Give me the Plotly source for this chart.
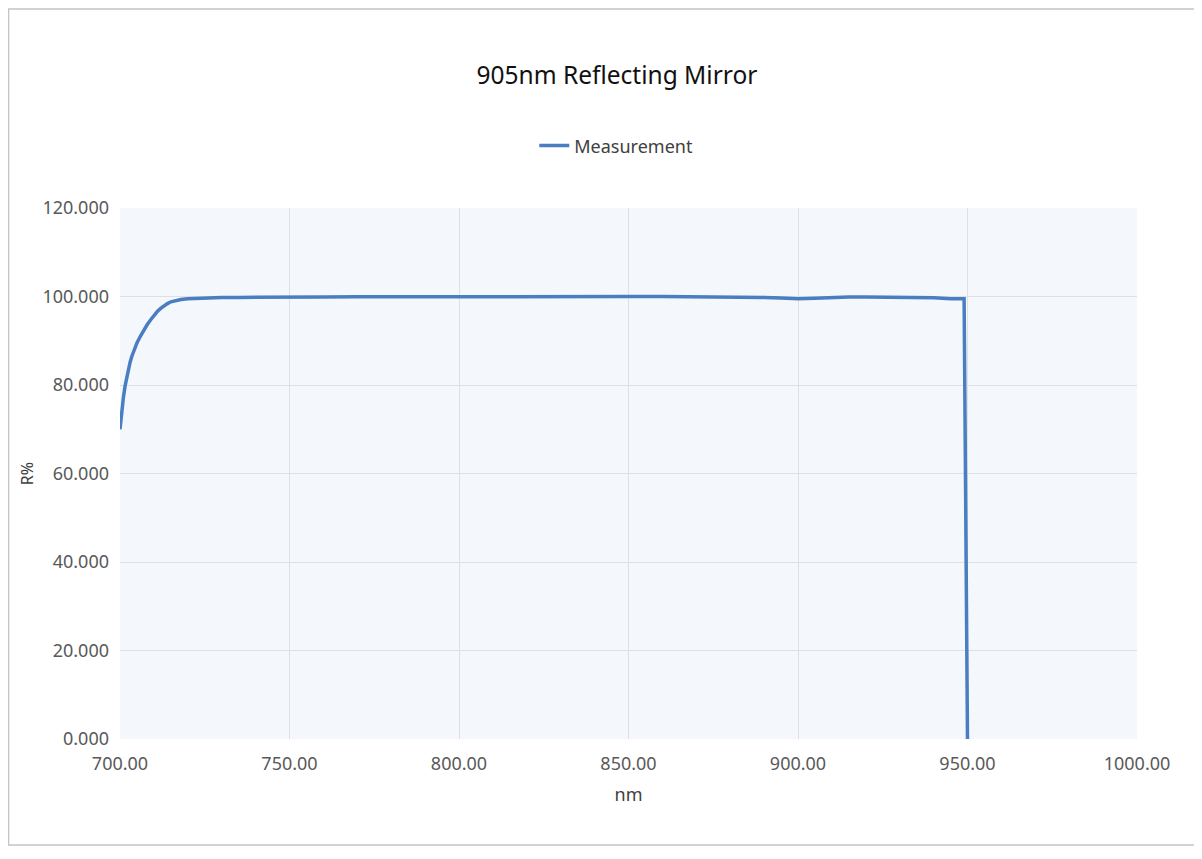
import plotly.graph_objects as go

# wavelength (nm) and reflectance (R%)
wavelength = [700, 700.3, 700.6, 701, 701.5, 702, 702.5, 703, 703.5, 704, 705, 706, 707,
              708, 709, 710, 711, 712, 713, 714, 715, 716, 718, 720, 723, 726, 730, 735,
              740, 750, 760, 770, 780, 790, 800, 810, 820, 830, 840, 850, 860, 870, 880,
              890, 895, 900, 905, 910, 915, 920, 930, 940, 945, 948, 949, 950]
reflectance = [70.0, 72.5, 74.8, 77.2, 79.8, 81.9, 83.7, 85.2, 86.5, 87.6, 89.5, 91.0, 92.4,
               93.6, 94.7, 95.7, 96.6, 97.3, 97.9, 98.4, 98.8, 99.0, 99.3, 99.5, 99.6, 99.7, 99.75, 99.8,
               99.85, 99.9, 99.9, 99.92, 99.95, 99.95, 99.98, 100.0, 99.98, 99.97, 99.98, 99.99, 99.98, 99.96, 99.9,
               99.8, 99.65, 99.5, 99.6, 99.8, 99.88, 99.9, 99.85, 99.7, 99.5, 99.4, 99.5, 0.0]

FONT = "Noto Sans"

# page body has an 8px margin, so the figure is a bit smaller than the window
W, H = 1194, 851

fig = go.Figure()
fig.add_trace(go.Scatter(
    x=wavelength, y=reflectance, mode="lines", name="Measurement",
    line=dict(color="#4a7ec2", width=3.5),
))

fig.update_layout(
    width=W, height=H,
    margin=dict(l=112, r=65, t=200, b=120),
    paper_bgcolor="white",
    plot_bgcolor="#f4f8fc",
    font=dict(family=FONT, size=18, color="#595959"),
    title=dict(text="905nm Reflecting Mirror", x=0.51, xanchor="center",
               y=1 - 67 / H, yanchor="middle",
               font=dict(family=FONT, size=24.5, color="#111111")),
    showlegend=True,
    legend=dict(orientation="h", x=0.488, xanchor="center", y=1.117, yanchor="middle",
                font=dict(size=18, color="#404040"), bgcolor="rgba(0,0,0,0)"),
    xaxis=dict(range=[700, 1000], dtick=50, tickformat=".2f",
               showgrid=True, gridcolor="#e0e0e0", gridwidth=1,
               zeroline=False, showline=False, ticks="", ticklabelstandoff=12,
               title=dict(text="nm", standoff=14, font=dict(size=18, color="#404040"))),
    yaxis=dict(range=[0, 120], dtick=20, tickformat=".3f",
               showgrid=True, gridcolor="#e0e0e0", gridwidth=1,
               zeroline=False, showline=False, ticks="", ticklabelstandoff=10,
               title=dict(text="R%", standoff=4, font=dict(size=16, color="#404040"))),
)

# outer chart frame (in paper units relative to the 1017x531 plot area)
fig.add_shape(type="rect", xref="paper", yref="paper",
              x0=-0.1096, x1=1.062, y0=-0.1996, y1=1.375,
              line=dict(color="#c4c4c4", width=1.5), fillcolor="rgba(0,0,0,0)", layer="below")

fig.write_html("out.html")
